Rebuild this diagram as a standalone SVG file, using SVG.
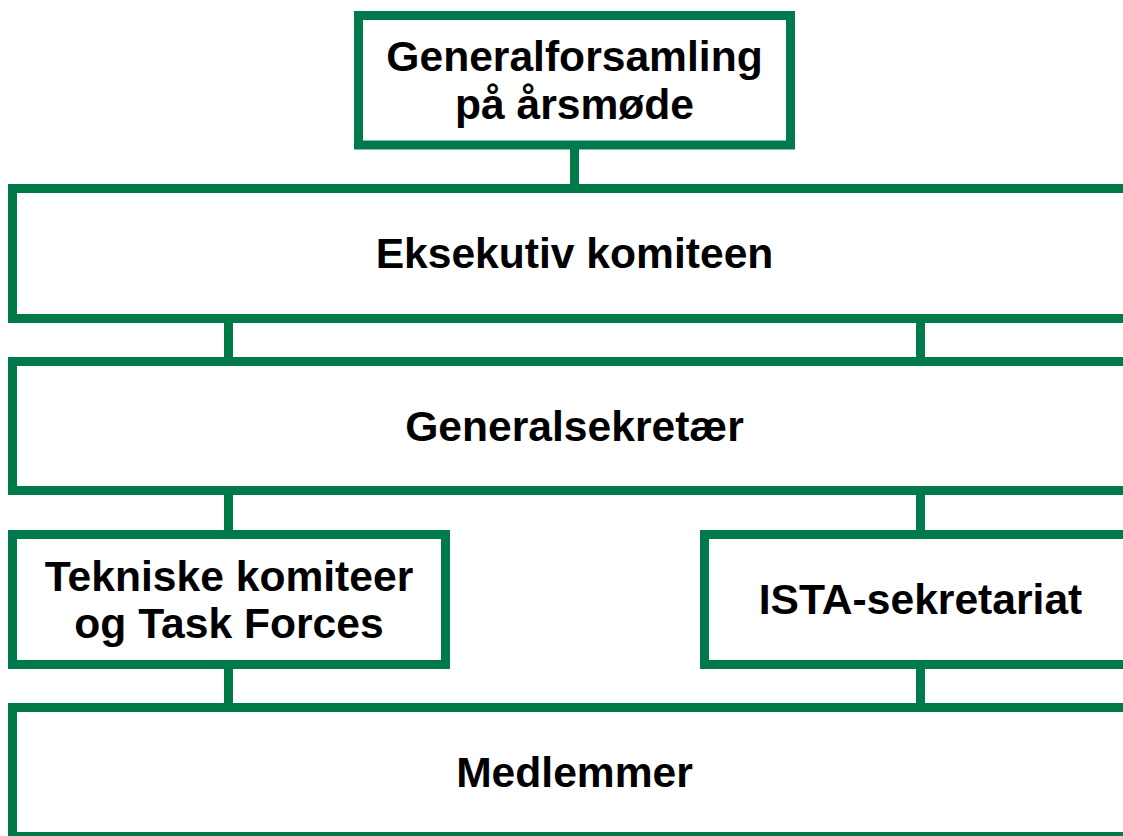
<svg xmlns="http://www.w3.org/2000/svg" width="1123" height="836" viewBox="0 0 1123 836">
<style>
.box{fill:#ffffff;stroke:#007A4B;stroke-width:9}
.con{stroke:#007A4B;stroke-width:9;fill:none}
.t{font-family:"Liberation Sans",Arial,sans-serif;font-weight:bold;font-size:42.6px;fill:#000;text-anchor:middle}
</style>
<rect width="1123" height="836" fill="#ffffff"/>
<g id="connectors">
<line class="con" x1="574.5" y1="145" x2="574.5" y2="188.5"/>
<line class="con" x1="228.5" y1="318.5" x2="228.5" y2="361.5"/>
<line class="con" x1="920.5" y1="318.5" x2="920.5" y2="361.5"/>
<line class="con" x1="228.5" y1="490.5" x2="228.5" y2="534.5"/>
<line class="con" x1="920.5" y1="490.5" x2="920.5" y2="534.5"/>
<line class="con" x1="228.5" y1="664.5" x2="228.5" y2="707.5"/>
<line class="con" x1="920.5" y1="664.5" x2="920.5" y2="707.5"/>
</g>
<g id="generalforsamling">
<rect class="box" x="358.5" y="15.5" width="432" height="129.5"/>
<text class="t" x="574.5" y="71">Generalforsamling</text>
<text class="t" x="574.5" y="119">på årsmøde</text>
</g>
<g id="eksekutiv">
<rect class="box" x="12.5" y="188.5" width="1130" height="130"/>
<text class="t" x="574.5" y="268">Eksekutiv komiteen</text>
</g>
<g id="generalsekretaer">
<rect class="box" x="12.5" y="361.5" width="1130" height="129"/>
<text class="t" x="574.5" y="441">Generalsekretær</text>
</g>
<g id="tekniske">
<rect class="box" x="12.5" y="534.5" width="433" height="130"/>
<text class="t" x="229" y="591">Tekniske komiteer</text>
<text class="t" x="229" y="638">og Task Forces</text>
</g>
<g id="ista">
<rect class="box" x="704.5" y="534.5" width="438" height="130"/>
<text class="t" x="920.5" y="614">ISTA-sekretariat</text>
</g>
<g id="medlemmer">
<rect class="box" x="12.5" y="707.5" width="1130" height="129"/>
<text class="t" x="574.5" y="787">Medlemmer</text>
</g>
</svg>
